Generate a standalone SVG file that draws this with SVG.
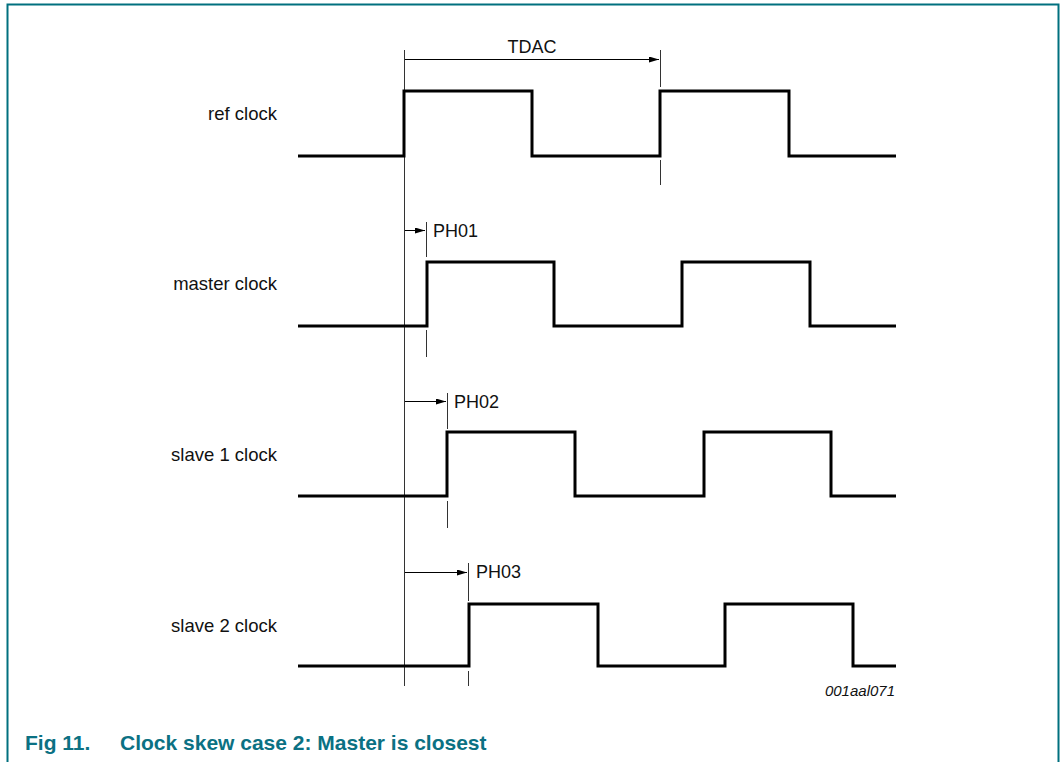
<svg xmlns="http://www.w3.org/2000/svg" width="1060" height="762" viewBox="0 0 1060 762">
<defs>
<style>
.frame{fill:none;stroke:#00707f;stroke-width:2}
.wave{fill:none;stroke:#000;stroke-width:3;stroke-linejoin:miter}
.thin{fill:none;stroke:#333;stroke-width:1}
.arr{fill:none;stroke:#000;stroke-width:1}
.lbl{font-family:"Liberation Sans",Arial,sans-serif;font-size:18.5px;fill:#111}
.ph{font-family:"Liberation Sans",Arial,sans-serif;font-size:18px;fill:#111}
.id{font-family:"Liberation Sans",Arial,sans-serif;font-size:15px;font-style:italic;fill:#111}
.cap{font-family:"Liberation Sans",Arial,sans-serif;font-size:21px;font-weight:bold;fill:#0b7183}
</style>
<marker id="ah" viewBox="0 0 10 6" refX="10" refY="3" markerWidth="10" markerHeight="6" markerUnits="userSpaceOnUse" orient="auto">
<path d="M0,0 L10,3 L0,6 Z" fill="#000"/>
</marker>
</defs>
<rect width="1060" height="762" fill="#fff"/>
<path class="frame" d="M7.5,762 V4.5 H1058.5 V762"/>

<g id="connectors">
<line class="thin" x1="404.5" y1="50" x2="404.5" y2="686"/>
<line class="thin" x1="660.5" y1="50" x2="660.5" y2="87"/>
<line class="thin" x1="660.5" y1="160" x2="660.5" y2="185"/>
<line class="arr" x1="405" y1="59.5" x2="659" y2="59.5" marker-end="url(#ah)"/>
<line class="thin" x1="426.5" y1="222" x2="426.5" y2="257"/>
<line class="thin" x1="426.5" y1="330" x2="426.5" y2="357"/>
<line class="arr" x1="405" y1="230.5" x2="425" y2="230.5" marker-end="url(#ah)"/>
<line class="thin" x1="447.5" y1="393" x2="447.5" y2="429"/>
<line class="thin" x1="447.5" y1="501" x2="447.5" y2="528"/>
<line class="arr" x1="405" y1="401.5" x2="446" y2="401.5" marker-end="url(#ah)"/>
<line class="thin" x1="468.5" y1="563" x2="468.5" y2="601"/>
<line class="thin" x1="468.5" y1="671" x2="468.5" y2="686"/>
<line class="arr" x1="405" y1="572.5" x2="467" y2="572.5" marker-end="url(#ah)"/>
</g>

<g id="ref-clock">
<text class="lbl" x="277" y="120" text-anchor="end">ref clock</text>
<path class="wave" d="M298,156 H404 V91 H532 V156 H660 V91 H789 V156 H896"/>
<text class="ph" x="532" y="53" text-anchor="middle">TDAC</text>
</g>

<g id="master-clock">
<text class="lbl" x="277" y="290" text-anchor="end">master clock</text>
<path class="wave" d="M298,326 H427 V262 H554 V326 H682 V262 H810 V326 H896"/>
<text class="ph" x="433" y="237">PH01</text>
</g>

<g id="slave1-clock">
<text class="lbl" x="277" y="461" text-anchor="end">slave 1 clock</text>
<path class="wave" d="M298,496 H447 V432 H575 V496 H704 V432 H831 V496 H896"/>
<text class="ph" x="454" y="408">PH02</text>
</g>

<g id="slave2-clock">
<text class="lbl" x="277" y="632" text-anchor="end">slave 2 clock</text>
<path class="wave" d="M298,666 H469 V604 H598 V666 H725 V604 H853 V666 H896"/>
<text class="ph" x="476" y="578">PH03</text>
</g>

<text class="id" x="895" y="696" text-anchor="end">001aal071</text>
<text class="cap" x="25" y="750">Fig 11.<tspan x="120">Clock skew case 2: Master is closest</tspan></text>
</svg>
